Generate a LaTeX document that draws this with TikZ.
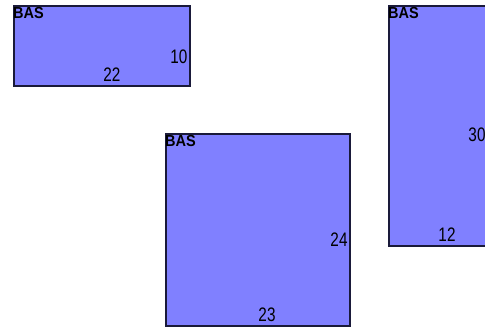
\documentclass[tikz,border=0pt]{standalone}
\usepackage{fontspec}
\setmainfont{Liberation Sans}
\definecolor{boxfill}{HTML}{8080FF}
\definecolor{boxline}{HTML}{1A1A3A}
\begin{document}
\begin{tikzpicture}[x=1pt,y=-1pt,
  bas/.style={draw=boxline,fill=boxfill,line width=1.3pt,inner sep=0pt},
  title/.style={anchor=north west,inner sep=0pt,font=\fontsize{14.5}{14.5}\selectfont\bfseries,yscale=1.1},
  num/.style={inner sep=0pt,font=\fontsize{17}{17}\selectfont,yscale=1.15,xscale=0.9}]
\useasboundingbox (0,0) rectangle (485,330);
\clip (0,0) rectangle (485,330);
\fill[white] (0,0) rectangle (485,330);
% box 1
\draw[bas] (14,6) rectangle (190,86);
\node[title] (t1) at (13,7) {BAS};
\node[num] (n1a) at (179,57) {10};
\node[num] (n1b) at (112,75) {22};
% box 2
\draw[bas] (389,6) rectangle (495,246);
\node[title] (t2) at (388,7) {BAS};
\node[num] (n2a) at (477,135) {30};
\node[num] (n2b) at (447,235) {12};
% box 3
\draw[bas] (166,134) rectangle (350,326);
\node[title] (t3) at (165,135) {BAS};
\node[num] (n3a) at (339,240) {24};
\node[num] (n3b) at (267,315) {23};
\end{tikzpicture}
\end{document}
